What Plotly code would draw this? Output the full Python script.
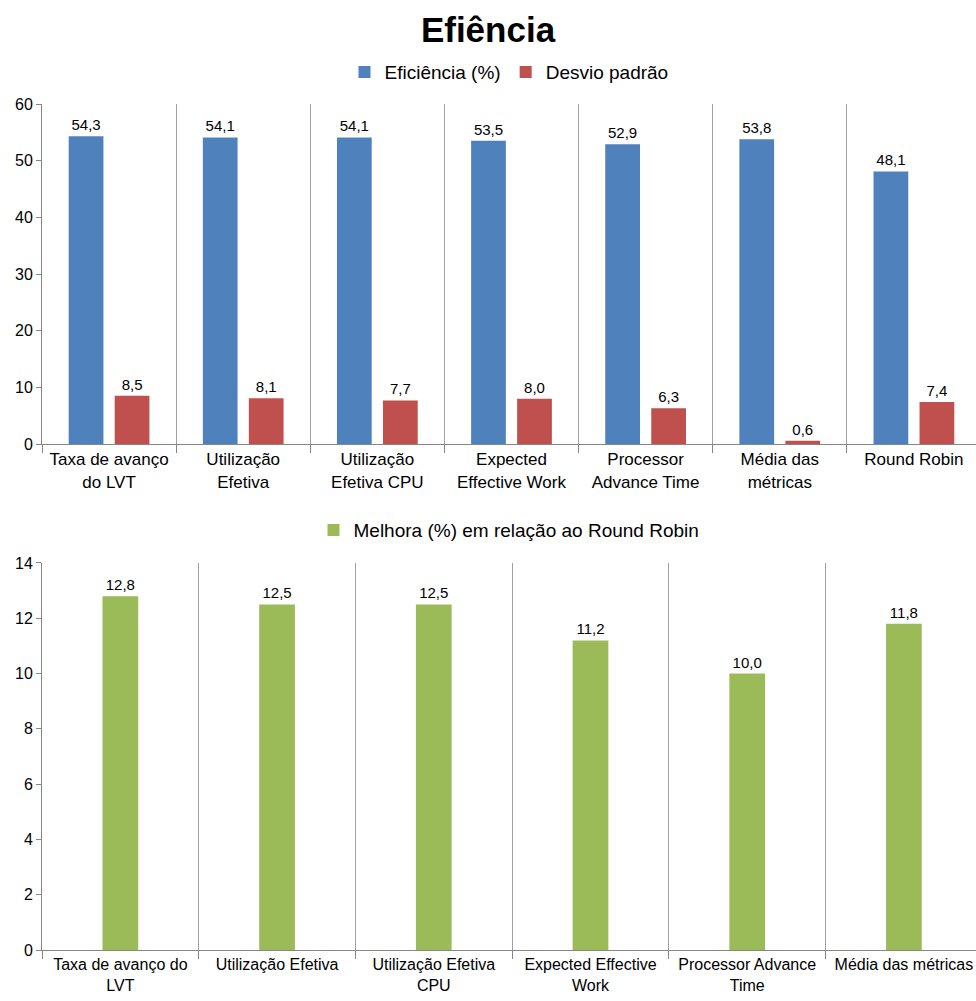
import plotly.graph_objects as go

# Categories for the upper chart (efficiency and standard deviation)
cats_top = [
    "Taxa de avanço<br>do LVT",
    "Utilização<br>Efetiva",
    "Utilização<br>Efetiva CPU",
    "Expected<br>Effective Work",
    "Processor<br>Advance Time",
    "Média das<br>métricas",
    "Round Robin",
]
eficiencia = [54.3, 54.1, 54.1, 53.5, 52.9, 53.8, 48.1]
desvio = [8.5, 8.1, 7.7, 8.0, 6.3, 0.6, 7.4]

# Categories for the lower chart (improvement over Round Robin)
cats_bottom = [
    "Taxa de avanço do<br>LVT",
    "Utilização Efetiva",
    "Utilização Efetiva<br>CPU",
    "Expected Effective<br>Work",
    "Processor Advance<br>Time",
    "Média das métricas",
]
melhora = [12.8, 12.5, 12.5, 11.2, 10.0, 11.8]

FONT = "Liberation Sans, Arial, sans-serif"
BLUE = "#4F81BD"
RED = "#C0504D"
GREEN = "#9BBB59"
GRID = "#A0A0A0"
AXIS = "#868686"

fig = go.Figure()

label_font = dict(family=FONT, size=15, color="#000000")

fig.add_trace(go.Bar(
    x=cats_top, y=eficiencia, name="Eficiência (%)",
    marker=dict(color=BLUE, line=dict(width=0)),
    width=0.259, offset=-0.301,
    text=eficiencia, texttemplate="%{y:.1f}", textposition="outside",
    textfont=label_font, constraintext="none", cliponaxis=False,
    xaxis="x", yaxis="y", legend="legend",
))
fig.add_trace(go.Bar(
    x=cats_top, y=desvio, name="Desvio padrão",
    marker=dict(color=RED, line=dict(width=0)),
    width=0.259, offset=0.042,
    text=desvio, texttemplate="%{y:.1f}", textposition="outside",
    textfont=label_font, constraintext="none", cliponaxis=False,
    xaxis="x", yaxis="y", legend="legend",
))
fig.add_trace(go.Bar(
    x=cats_bottom, y=melhora, name="Melhora (%) em relação ao Round Robin",
    marker=dict(color=GREEN, line=dict(width=0)),
    width=0.228, offset=-0.114,
    text=melhora, texttemplate="%{y:.1f}", textposition="outside",
    textfont=label_font, constraintext="none", cliponaxis=False,
    xaxis="x2", yaxis="y2", legend="legend2",
))

xcommon = dict(
    type="category", tickson="boundaries", ticks="outside", ticklen=8,
    tickcolor=AXIS, showline=True, linecolor=AXIS, linewidth=1,
    showgrid=True, gridcolor=GRID, gridwidth=1.3,
    automargin=False, fixedrange=True,
)
ycommon = dict(
    ticks="outside", ticklen=5, tickcolor=AXIS, showline=True,
    linecolor=AXIS, linewidth=1, showgrid=False, zeroline=False,
    tickfont=dict(family=FONT, size=16, color="#000000"),
    automargin=False,
)

fig.update_layout(
    width=976, height=1001,
    margin=dict(l=42, r=0, t=0, b=51, autoexpand=False),
    paper_bgcolor="white", plot_bgcolor="white",
    separators=",.",
    barmode="overlay",
    font=dict(family=FONT, color="#000000"),
    title=dict(
        text="<b>Efiência</b>", x=0.5, xanchor="center",
        y=1 - 30 / 1001, yref="container", yanchor="middle",
        font=dict(family=FONT, size=35, color="#000000"),
        automargin=False,
    ),
    xaxis=dict(xcommon, anchor="y", domain=[0, 1], range=[-0.5, 6.463],
               tickfont=dict(family=FONT, size=17, color="#000000")),
    yaxis=dict(ycommon, anchor="x", domain=[0.5326, 0.8905], range=[0, 60], dtick=10),
    xaxis2=dict(xcommon, anchor="y2", domain=[0, 1], range=[-0.5, 5.46],
                tickfont=dict(family=FONT, size=16, color="#000000")),
    yaxis2=dict(ycommon, anchor="x2", domain=[0, 0.4074], range=[0, 14], dtick=2),
    legend=dict(
        orientation="h", x=0.5, xanchor="center", y=0.924, yanchor="middle",
        font=dict(family=FONT, size=19, color="#000000"),
        itemwidth=30, tracegroupgap=0, bgcolor="rgba(0,0,0,0)",
    ),
    legend2=dict(
        orientation="h", x=0.5, xanchor="center", y=0.442, yanchor="middle",
        font=dict(family=FONT, size=19, color="#000000"),
        itemwidth=30, bgcolor="rgba(0,0,0,0)",
    ),
    showlegend=True,
)

fig.write_html("out.html")
